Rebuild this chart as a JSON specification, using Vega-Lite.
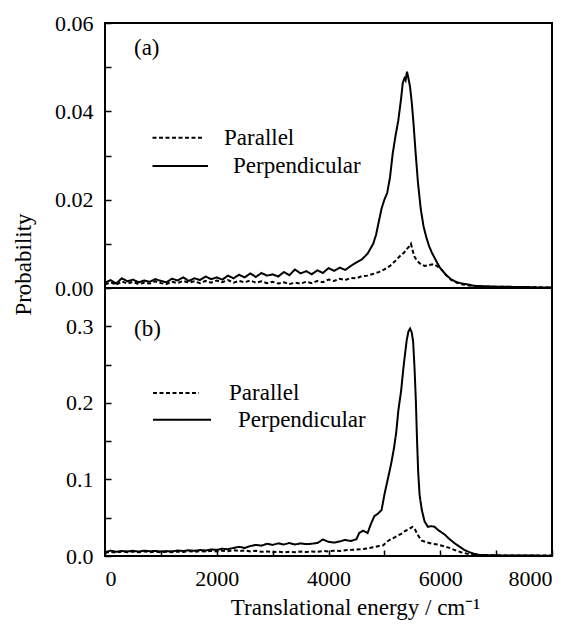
{
"$schema":"https://vega.github.io/schema/vega-lite/v6.json",
"autosize":{"type":"pad"},
"padding":{"left":11,"top":11,"right":5,"bottom":2},
"background":"white",
"spacing":0,
"bounds":"flush",
"config":{"view":{"stroke":"black","strokeWidth":2},"font":"Times New Roman, Liberation Serif, serif",
"text":{"font":"Times New Roman, Liberation Serif, serif"},
"axis":{"grid":false,"domain":false,"tickColor":"black","tickWidth":1.5,"tickSize":-6,"labelFont":"Times New Roman, Liberation Serif, serif","labelFontSize":22,"labelColor":"black","titleFont":"Times New Roman, Liberation Serif, serif","titleFontWeight":"normal","titleColor":"black","labelPadding":18}},
"datasets":{
"curves":[
{"p":"a","s":"Perpendicular","x":0,"y":0.0012},{"p":"a","s":"Perpendicular","x":100,"y":0.0018},{"p":"a","s":"Perpendicular","x":200,"y":0.0010},{"p":"a","s":"Perpendicular","x":300,"y":0.0022},{"p":"a","s":"Perpendicular","x":400,"y":0.0015},{"p":"a","s":"Perpendicular","x":500,"y":0.0019},{"p":"a","s":"Perpendicular","x":600,"y":0.0013},{"p":"a","s":"Perpendicular","x":700,"y":0.0017},{"p":"a","s":"Perpendicular","x":800,"y":0.0014},{"p":"a","s":"Perpendicular","x":900,"y":0.0020},{"p":"a","s":"Perpendicular","x":1000,"y":0.0016},{"p":"a","s":"Perpendicular","x":1100,"y":0.0013},{"p":"a","s":"Perpendicular","x":1200,"y":0.0021},{"p":"a","s":"Perpendicular","x":1300,"y":0.0017},{"p":"a","s":"Perpendicular","x":1400,"y":0.0024},{"p":"a","s":"Perpendicular","x":1500,"y":0.0016},{"p":"a","s":"Perpendicular","x":1600,"y":0.0022},{"p":"a","s":"Perpendicular","x":1700,"y":0.0018},{"p":"a","s":"Perpendicular","x":1800,"y":0.0026},{"p":"a","s":"Perpendicular","x":1900,"y":0.0020},{"p":"a","s":"Perpendicular","x":2000,"y":0.0024},{"p":"a","s":"Perpendicular","x":2100,"y":0.0019},{"p":"a","s":"Perpendicular","x":2200,"y":0.0028},{"p":"a","s":"Perpendicular","x":2300,"y":0.0022},{"p":"a","s":"Perpendicular","x":2400,"y":0.0030},{"p":"a","s":"Perpendicular","x":2500,"y":0.0024},{"p":"a","s":"Perpendicular","x":2600,"y":0.0033},{"p":"a","s":"Perpendicular","x":2700,"y":0.0025},{"p":"a","s":"Perpendicular","x":2800,"y":0.0034},{"p":"a","s":"Perpendicular","x":2900,"y":0.0028},{"p":"a","s":"Perpendicular","x":3000,"y":0.0031},{"p":"a","s":"Perpendicular","x":3100,"y":0.0026},{"p":"a","s":"Perpendicular","x":3200,"y":0.0036},{"p":"a","s":"Perpendicular","x":3300,"y":0.0029},{"p":"a","s":"Perpendicular","x":3400,"y":0.0042},{"p":"a","s":"Perpendicular","x":3500,"y":0.0033},{"p":"a","s":"Perpendicular","x":3600,"y":0.0038},{"p":"a","s":"Perpendicular","x":3700,"y":0.0031},{"p":"a","s":"Perpendicular","x":3800,"y":0.0040},{"p":"a","s":"Perpendicular","x":3900,"y":0.0034},{"p":"a","s":"Perpendicular","x":4000,"y":0.0045},{"p":"a","s":"Perpendicular","x":4100,"y":0.0039},{"p":"a","s":"Perpendicular","x":4200,"y":0.0046},{"p":"a","s":"Perpendicular","x":4300,"y":0.0041},{"p":"a","s":"Perpendicular","x":4400,"y":0.0050},{"p":"a","s":"Perpendicular","x":4500,"y":0.0058},{"p":"a","s":"Perpendicular","x":4600,"y":0.0065},{"p":"a","s":"Perpendicular","x":4700,"y":0.0078},{"p":"a","s":"Perpendicular","x":4800,"y":0.0100},{"p":"a","s":"Perpendicular","x":4850,"y":0.0120},{"p":"a","s":"Perpendicular","x":4900,"y":0.0150},{"p":"a","s":"Perpendicular","x":4950,"y":0.0180},{"p":"a","s":"Perpendicular","x":5000,"y":0.0200},{"p":"a","s":"Perpendicular","x":5050,"y":0.0215},{"p":"a","s":"Perpendicular","x":5100,"y":0.0250},{"p":"a","s":"Perpendicular","x":5150,"y":0.0305},{"p":"a","s":"Perpendicular","x":5200,"y":0.0345},{"p":"a","s":"Perpendicular","x":5250,"y":0.0380},{"p":"a","s":"Perpendicular","x":5300,"y":0.0430},{"p":"a","s":"Perpendicular","x":5330,"y":0.0465},{"p":"a","s":"Perpendicular","x":5360,"y":0.0475},{"p":"a","s":"Perpendicular","x":5380,"y":0.0470},{"p":"a","s":"Perpendicular","x":5405,"y":0.0490},{"p":"a","s":"Perpendicular","x":5430,"y":0.0475},{"p":"a","s":"Perpendicular","x":5460,"y":0.0455},{"p":"a","s":"Perpendicular","x":5490,"y":0.0420},{"p":"a","s":"Perpendicular","x":5520,"y":0.0375},{"p":"a","s":"Perpendicular","x":5560,"y":0.0305},{"p":"a","s":"Perpendicular","x":5600,"y":0.0240},{"p":"a","s":"Perpendicular","x":5650,"y":0.0180},{"p":"a","s":"Perpendicular","x":5700,"y":0.0140},{"p":"a","s":"Perpendicular","x":5750,"y":0.0115},{"p":"a","s":"Perpendicular","x":5800,"y":0.0095},{"p":"a","s":"Perpendicular","x":5850,"y":0.0080},{"p":"a","s":"Perpendicular","x":5900,"y":0.0068},{"p":"a","s":"Perpendicular","x":5950,"y":0.0056},{"p":"a","s":"Perpendicular","x":6000,"y":0.0045},{"p":"a","s":"Perpendicular","x":6100,"y":0.0030},{"p":"a","s":"Perpendicular","x":6200,"y":0.0019},{"p":"a","s":"Perpendicular","x":6300,"y":0.0013},{"p":"a","s":"Perpendicular","x":6400,"y":0.0010},{"p":"a","s":"Perpendicular","x":6500,"y":0.0008},{"p":"a","s":"Perpendicular","x":6600,"y":0.0005},{"p":"a","s":"Perpendicular","x":6800,"y":0.0004},{"p":"a","s":"Perpendicular","x":7000,"y":0.0003},{"p":"a","s":"Perpendicular","x":7200,"y":0.0003},{"p":"a","s":"Perpendicular","x":7400,"y":0.0002},{"p":"a","s":"Perpendicular","x":7600,"y":0.0002},{"p":"a","s":"Perpendicular","x":7800,"y":0.0001},{"p":"a","s":"Perpendicular","x":8000,"y":0.0001},
{"p":"a","s":"Parallel","x":0,"y":0.0008},{"p":"a","s":"Parallel","x":100,"y":0.0013},{"p":"a","s":"Parallel","x":200,"y":0.0007},{"p":"a","s":"Parallel","x":300,"y":0.0015},{"p":"a","s":"Parallel","x":400,"y":0.0010},{"p":"a","s":"Parallel","x":500,"y":0.0014},{"p":"a","s":"Parallel","x":600,"y":0.0009},{"p":"a","s":"Parallel","x":700,"y":0.0012},{"p":"a","s":"Parallel","x":800,"y":0.0010},{"p":"a","s":"Parallel","x":900,"y":0.0015},{"p":"a","s":"Parallel","x":1000,"y":0.0011},{"p":"a","s":"Parallel","x":1100,"y":0.0009},{"p":"a","s":"Parallel","x":1200,"y":0.0014},{"p":"a","s":"Parallel","x":1300,"y":0.0011},{"p":"a","s":"Parallel","x":1400,"y":0.0016},{"p":"a","s":"Parallel","x":1500,"y":0.0012},{"p":"a","s":"Parallel","x":1600,"y":0.0015},{"p":"a","s":"Parallel","x":1700,"y":0.0011},{"p":"a","s":"Parallel","x":1800,"y":0.0016},{"p":"a","s":"Parallel","x":1900,"y":0.0012},{"p":"a","s":"Parallel","x":2000,"y":0.0017},{"p":"a","s":"Parallel","x":2100,"y":0.0013},{"p":"a","s":"Parallel","x":2200,"y":0.0018},{"p":"a","s":"Parallel","x":2300,"y":0.0012},{"p":"a","s":"Parallel","x":2400,"y":0.0016},{"p":"a","s":"Parallel","x":2500,"y":0.0013},{"p":"a","s":"Parallel","x":2600,"y":0.0017},{"p":"a","s":"Parallel","x":2700,"y":0.0012},{"p":"a","s":"Parallel","x":2800,"y":0.0015},{"p":"a","s":"Parallel","x":2900,"y":0.0011},{"p":"a","s":"Parallel","x":3000,"y":0.0014},{"p":"a","s":"Parallel","x":3100,"y":0.0010},{"p":"a","s":"Parallel","x":3200,"y":0.0013},{"p":"a","s":"Parallel","x":3300,"y":0.0009},{"p":"a","s":"Parallel","x":3400,"y":0.0012},{"p":"a","s":"Parallel","x":3500,"y":0.0010},{"p":"a","s":"Parallel","x":3600,"y":0.0014},{"p":"a","s":"Parallel","x":3700,"y":0.0011},{"p":"a","s":"Parallel","x":3800,"y":0.0016},{"p":"a","s":"Parallel","x":3900,"y":0.0013},{"p":"a","s":"Parallel","x":4000,"y":0.0019},{"p":"a","s":"Parallel","x":4100,"y":0.0016},{"p":"a","s":"Parallel","x":4200,"y":0.0021},{"p":"a","s":"Parallel","x":4300,"y":0.0018},{"p":"a","s":"Parallel","x":4400,"y":0.0023},{"p":"a","s":"Parallel","x":4500,"y":0.0022},{"p":"a","s":"Parallel","x":4600,"y":0.0027},{"p":"a","s":"Parallel","x":4700,"y":0.0028},{"p":"a","s":"Parallel","x":4800,"y":0.0032},{"p":"a","s":"Parallel","x":4900,"y":0.0036},{"p":"a","s":"Parallel","x":5000,"y":0.0042},{"p":"a","s":"Parallel","x":5100,"y":0.0050},{"p":"a","s":"Parallel","x":5200,"y":0.0062},{"p":"a","s":"Parallel","x":5300,"y":0.0075},{"p":"a","s":"Parallel","x":5350,"y":0.0080},{"p":"a","s":"Parallel","x":5400,"y":0.0088},{"p":"a","s":"Parallel","x":5450,"y":0.0095},{"p":"a","s":"Parallel","x":5475,"y":0.0100},{"p":"a","s":"Parallel","x":5500,"y":0.0088},{"p":"a","s":"Parallel","x":5530,"y":0.0073},{"p":"a","s":"Parallel","x":5580,"y":0.0062},{"p":"a","s":"Parallel","x":5650,"y":0.0054},{"p":"a","s":"Parallel","x":5720,"y":0.0050},{"p":"a","s":"Parallel","x":5800,"y":0.0052},{"p":"a","s":"Parallel","x":5880,"y":0.0054},{"p":"a","s":"Parallel","x":5950,"y":0.0049},{"p":"a","s":"Parallel","x":6020,"y":0.0042},{"p":"a","s":"Parallel","x":6100,"y":0.0030},{"p":"a","s":"Parallel","x":6200,"y":0.0018},{"p":"a","s":"Parallel","x":6300,"y":0.0012},{"p":"a","s":"Parallel","x":6400,"y":0.0008},{"p":"a","s":"Parallel","x":6550,"y":0.0005},{"p":"a","s":"Parallel","x":6800,"y":0.0003},{"p":"a","s":"Parallel","x":7000,"y":0.0003},{"p":"a","s":"Parallel","x":7500,"y":0.0002},{"p":"a","s":"Parallel","x":8000,"y":0.0001},
{"p":"b","s":"Perpendicular","x":0,"y":0.005},{"p":"b","s":"Perpendicular","x":100,"y":0.007},{"p":"b","s":"Perpendicular","x":200,"y":0.0055},{"p":"b","s":"Perpendicular","x":300,"y":0.0065},{"p":"b","s":"Perpendicular","x":400,"y":0.006},{"p":"b","s":"Perpendicular","x":500,"y":0.0068},{"p":"b","s":"Perpendicular","x":600,"y":0.0058},{"p":"b","s":"Perpendicular","x":700,"y":0.007},{"p":"b","s":"Perpendicular","x":800,"y":0.0062},{"p":"b","s":"Perpendicular","x":900,"y":0.0066},{"p":"b","s":"Perpendicular","x":1000,"y":0.0058},{"p":"b","s":"Perpendicular","x":1100,"y":0.0064},{"p":"b","s":"Perpendicular","x":1200,"y":0.006},{"p":"b","s":"Perpendicular","x":1300,"y":0.0072},{"p":"b","s":"Perpendicular","x":1400,"y":0.0065},{"p":"b","s":"Perpendicular","x":1500,"y":0.0075},{"p":"b","s":"Perpendicular","x":1600,"y":0.0068},{"p":"b","s":"Perpendicular","x":1700,"y":0.0078},{"p":"b","s":"Perpendicular","x":1800,"y":0.0072},{"p":"b","s":"Perpendicular","x":1900,"y":0.0085},{"p":"b","s":"Perpendicular","x":2000,"y":0.008},{"p":"b","s":"Perpendicular","x":2100,"y":0.0095},{"p":"b","s":"Perpendicular","x":2200,"y":0.0088},{"p":"b","s":"Perpendicular","x":2300,"y":0.0105},{"p":"b","s":"Perpendicular","x":2400,"y":0.012},{"p":"b","s":"Perpendicular","x":2500,"y":0.0105},{"p":"b","s":"Perpendicular","x":2600,"y":0.013},{"p":"b","s":"Perpendicular","x":2700,"y":0.0145},{"p":"b","s":"Perpendicular","x":2800,"y":0.0135},{"p":"b","s":"Perpendicular","x":2900,"y":0.016},{"p":"b","s":"Perpendicular","x":3000,"y":0.0145},{"p":"b","s":"Perpendicular","x":3100,"y":0.0165},{"p":"b","s":"Perpendicular","x":3200,"y":0.015},{"p":"b","s":"Perpendicular","x":3300,"y":0.017},{"p":"b","s":"Perpendicular","x":3400,"y":0.015},{"p":"b","s":"Perpendicular","x":3500,"y":0.0165},{"p":"b","s":"Perpendicular","x":3600,"y":0.0155},{"p":"b","s":"Perpendicular","x":3700,"y":0.016},{"p":"b","s":"Perpendicular","x":3800,"y":0.017},{"p":"b","s":"Perpendicular","x":3900,"y":0.0215},{"p":"b","s":"Perpendicular","x":4000,"y":0.0185},{"p":"b","s":"Perpendicular","x":4100,"y":0.0175},{"p":"b","s":"Perpendicular","x":4200,"y":0.019},{"p":"b","s":"Perpendicular","x":4300,"y":0.021},{"p":"b","s":"Perpendicular","x":4400,"y":0.0195},{"p":"b","s":"Perpendicular","x":4500,"y":0.022},{"p":"b","s":"Perpendicular","x":4550,"y":0.030},{"p":"b","s":"Perpendicular","x":4620,"y":0.033},{"p":"b","s":"Perpendicular","x":4700,"y":0.030},{"p":"b","s":"Perpendicular","x":4760,"y":0.042},{"p":"b","s":"Perpendicular","x":4820,"y":0.052},{"p":"b","s":"Perpendicular","x":4880,"y":0.055},{"p":"b","s":"Perpendicular","x":4950,"y":0.060},{"p":"b","s":"Perpendicular","x":5000,"y":0.080},{"p":"b","s":"Perpendicular","x":5060,"y":0.100},{"p":"b","s":"Perpendicular","x":5120,"y":0.120},{"p":"b","s":"Perpendicular","x":5170,"y":0.140},{"p":"b","s":"Perpendicular","x":5210,"y":0.160},{"p":"b","s":"Perpendicular","x":5250,"y":0.190},{"p":"b","s":"Perpendicular","x":5300,"y":0.216},{"p":"b","s":"Perpendicular","x":5340,"y":0.245},{"p":"b","s":"Perpendicular","x":5370,"y":0.264},{"p":"b","s":"Perpendicular","x":5400,"y":0.282},{"p":"b","s":"Perpendicular","x":5430,"y":0.293},{"p":"b","s":"Perpendicular","x":5460,"y":0.297},{"p":"b","s":"Perpendicular","x":5490,"y":0.292},{"p":"b","s":"Perpendicular","x":5515,"y":0.280},{"p":"b","s":"Perpendicular","x":5540,"y":0.245},{"p":"b","s":"Perpendicular","x":5565,"y":0.200},{"p":"b","s":"Perpendicular","x":5585,"y":0.150},{"p":"b","s":"Perpendicular","x":5605,"y":0.110},{"p":"b","s":"Perpendicular","x":5630,"y":0.080},{"p":"b","s":"Perpendicular","x":5670,"y":0.060},{"p":"b","s":"Perpendicular","x":5720,"y":0.045},{"p":"b","s":"Perpendicular","x":5780,"y":0.038},{"p":"b","s":"Perpendicular","x":5840,"y":0.039},{"p":"b","s":"Perpendicular","x":5900,"y":0.038},{"p":"b","s":"Perpendicular","x":5960,"y":0.034},{"p":"b","s":"Perpendicular","x":6020,"y":0.031},{"p":"b","s":"Perpendicular","x":6080,"y":0.028},{"p":"b","s":"Perpendicular","x":6150,"y":0.023},{"p":"b","s":"Perpendicular","x":6250,"y":0.017},{"p":"b","s":"Perpendicular","x":6350,"y":0.012},{"p":"b","s":"Perpendicular","x":6430,"y":0.008},{"p":"b","s":"Perpendicular","x":6520,"y":0.005},{"p":"b","s":"Perpendicular","x":6600,"y":0.003},{"p":"b","s":"Perpendicular","x":6700,"y":0.0015},{"p":"b","s":"Perpendicular","x":6900,"y":0.001},{"p":"b","s":"Perpendicular","x":7100,"y":0.0008},{"p":"b","s":"Perpendicular","x":7400,"y":0.0006},{"p":"b","s":"Perpendicular","x":7700,"y":0.0005},{"p":"b","s":"Perpendicular","x":8000,"y":0.0004},
{"p":"b","s":"Parallel","x":0,"y":0.004},{"p":"b","s":"Parallel","x":100,"y":0.0055},{"p":"b","s":"Parallel","x":200,"y":0.0045},{"p":"b","s":"Parallel","x":300,"y":0.006},{"p":"b","s":"Parallel","x":400,"y":0.005},{"p":"b","s":"Parallel","x":500,"y":0.0058},{"p":"b","s":"Parallel","x":600,"y":0.0048},{"p":"b","s":"Parallel","x":700,"y":0.006},{"p":"b","s":"Parallel","x":800,"y":0.005},{"p":"b","s":"Parallel","x":900,"y":0.0057},{"p":"b","s":"Parallel","x":1000,"y":0.0049},{"p":"b","s":"Parallel","x":1100,"y":0.0055},{"p":"b","s":"Parallel","x":1200,"y":0.005},{"p":"b","s":"Parallel","x":1300,"y":0.006},{"p":"b","s":"Parallel","x":1400,"y":0.0052},{"p":"b","s":"Parallel","x":1500,"y":0.0062},{"p":"b","s":"Parallel","x":1600,"y":0.0055},{"p":"b","s":"Parallel","x":1700,"y":0.0065},{"p":"b","s":"Parallel","x":1800,"y":0.0058},{"p":"b","s":"Parallel","x":1900,"y":0.0068},{"p":"b","s":"Parallel","x":2000,"y":0.006},{"p":"b","s":"Parallel","x":2100,"y":0.007},{"p":"b","s":"Parallel","x":2200,"y":0.0062},{"p":"b","s":"Parallel","x":2300,"y":0.0075},{"p":"b","s":"Parallel","x":2400,"y":0.0065},{"p":"b","s":"Parallel","x":2500,"y":0.0072},{"p":"b","s":"Parallel","x":2600,"y":0.006},{"p":"b","s":"Parallel","x":2700,"y":0.0068},{"p":"b","s":"Parallel","x":2800,"y":0.0055},{"p":"b","s":"Parallel","x":2900,"y":0.006},{"p":"b","s":"Parallel","x":3000,"y":0.005},{"p":"b","s":"Parallel","x":3100,"y":0.0058},{"p":"b","s":"Parallel","x":3200,"y":0.0048},{"p":"b","s":"Parallel","x":3300,"y":0.0056},{"p":"b","s":"Parallel","x":3400,"y":0.005},{"p":"b","s":"Parallel","x":3500,"y":0.0058},{"p":"b","s":"Parallel","x":3600,"y":0.0052},{"p":"b","s":"Parallel","x":3700,"y":0.006},{"p":"b","s":"Parallel","x":3800,"y":0.0055},{"p":"b","s":"Parallel","x":3900,"y":0.0065},{"p":"b","s":"Parallel","x":4000,"y":0.006},{"p":"b","s":"Parallel","x":4100,"y":0.007},{"p":"b","s":"Parallel","x":4200,"y":0.0065},{"p":"b","s":"Parallel","x":4300,"y":0.0075},{"p":"b","s":"Parallel","x":4400,"y":0.008},{"p":"b","s":"Parallel","x":4500,"y":0.0085},{"p":"b","s":"Parallel","x":4600,"y":0.009},{"p":"b","s":"Parallel","x":4700,"y":0.010},{"p":"b","s":"Parallel","x":4800,"y":0.0115},{"p":"b","s":"Parallel","x":4900,"y":0.013},{"p":"b","s":"Parallel","x":4980,"y":0.014},{"p":"b","s":"Parallel","x":5050,"y":0.019},{"p":"b","s":"Parallel","x":5120,"y":0.022},{"p":"b","s":"Parallel","x":5200,"y":0.025},{"p":"b","s":"Parallel","x":5300,"y":0.029},{"p":"b","s":"Parallel","x":5380,"y":0.033},{"p":"b","s":"Parallel","x":5440,"y":0.035},{"p":"b","s":"Parallel","x":5500,"y":0.038},{"p":"b","s":"Parallel","x":5540,"y":0.036},{"p":"b","s":"Parallel","x":5580,"y":0.030},{"p":"b","s":"Parallel","x":5620,"y":0.025},{"p":"b","s":"Parallel","x":5670,"y":0.020},{"p":"b","s":"Parallel","x":5750,"y":0.018},{"p":"b","s":"Parallel","x":5850,"y":0.016},{"p":"b","s":"Parallel","x":5950,"y":0.015},{"p":"b","s":"Parallel","x":6050,"y":0.013},{"p":"b","s":"Parallel","x":6150,"y":0.011},{"p":"b","s":"Parallel","x":6250,"y":0.008},{"p":"b","s":"Parallel","x":6370,"y":0.005},{"p":"b","s":"Parallel","x":6480,"y":0.003},{"p":"b","s":"Parallel","x":6600,"y":0.0015},{"p":"b","s":"Parallel","x":6800,"y":0.001},{"p":"b","s":"Parallel","x":7000,"y":0.0008},{"p":"b","s":"Parallel","x":7500,"y":0.0006},{"p":"b","s":"Parallel","x":8000,"y":0.0005}
],
"keys":[
{"p":"a","s":"Parallel","x":850,"x2":1754,"y":0.034},
{"p":"a","s":"Perpendicular","x":850,"x2":1844,"y":0.0276},
{"p":"b","s":"Parallel","x":859,"x2":1683,"y":0.213},
{"p":"b","s":"Perpendicular","x":859,"x2":1897,"y":0.178}
],
"texts":[
{"p":"a","t":"(a)","x":519,"y":0.0543},
{"p":"a","t":"Parallel","x":2130,"y":0.034},
{"p":"a","t":"Perpendicular","x":2291,"y":0.0276},
{"p":"b","t":"(b)","x":519,"y":0.297},
{"p":"b","t":"Parallel","x":2220,"y":0.213},
{"p":"b","t":"Perpendicular","x":2380,"y":0.178}
]
},
"vconcat":[
{
"width":447,"height":265,
"layer":[
{"data":{"name":"curves"},"transform":[{"filter":"datum.p=='a'"}],
"mark":{"type":"line","color":"black","strokeWidth":2},
"encoding":{
"x":{"field":"x","type":"quantitative","scale":{"domain":[0,8000],"nice":false},"axis":null},
"y":{"field":"y","type":"quantitative","scale":{"domain":[0,0.06],"nice":false},"axis":{"values":[0,0.01,0.02,0.03,0.04,0.05,0.06],"format":".2f","labelExpr":"round(datum.value*100)%2==0 ? datum.label : ''","title":"Probability","titleFontSize":23,"titleX":-70,"titleY":241,"titleAngle":-90,"titleAlign":"center","titleBaseline":"bottom"}},
"strokeDash":{"field":"s","type":"nominal","scale":{"domain":["Parallel","Perpendicular"],"range":[[4,2.5],[1,0]]},"legend":null}
}},
{"data":{"name":"keys"},"transform":[{"filter":"datum.p=='a'"}],
"mark":{"type":"rule","color":"black","strokeWidth":2},
"encoding":{"x":{"field":"x","type":"quantitative"},"x2":{"field":"x2"},"y":{"field":"y","type":"quantitative"},
"strokeDash":{"field":"s","type":"nominal","legend":null}}},
{"data":{"name":"texts"},"transform":[{"filter":"datum.p=='a'"}],
"mark":{"type":"text","align":"left","baseline":"middle","color":"black","fontSize":23},
"encoding":{"x":{"field":"x","type":"quantitative"},"y":{"field":"y","type":"quantitative"},"text":{"field":"t"}}}
]
},
{
"width":447,"height":268,
"layer":[
{"data":{"name":"curves"},"transform":[{"filter":"datum.p=='b'"}],
"mark":{"type":"line","color":"black","strokeWidth":2},
"encoding":{
"x":{"field":"x","type":"quantitative","scale":{"domain":[0,8000],"nice":false},"axis":{"values":[0,1000,2000,3000,4000,5000,6000,7000,8000],"format":"d","labelExpr":"round(datum.value/1000)%2==0 ? datum.label : ''","title":"Translational energy / cm⁻¹","titleFontSize":23,"titleY":58,"titleX":250,"titleBaseline":"alphabetic","titleAlign":"center"}},
"y":{"field":"y","type":"quantitative","scale":{"domain":[0,0.35],"nice":false},"axis":{"values":[0,0.05,0.1,0.15,0.2,0.25,0.3],"format":".1f","labelExpr":"round(datum.value*20)%2==0 ? datum.label : ''","title":null}},
"strokeDash":{"field":"s","type":"nominal","scale":{"domain":["Parallel","Perpendicular"],"range":[[4,2.5],[1,0]]},"legend":null}
}},
{"data":{"name":"keys"},"transform":[{"filter":"datum.p=='b'"}],
"mark":{"type":"rule","color":"black","strokeWidth":2},
"encoding":{"x":{"field":"x","type":"quantitative"},"x2":{"field":"x2"},"y":{"field":"y","type":"quantitative"},
"strokeDash":{"field":"s","type":"nominal","legend":null}}},
{"data":{"name":"texts"},"transform":[{"filter":"datum.p=='b'"}],
"mark":{"type":"text","align":"left","baseline":"middle","color":"black","fontSize":23},
"encoding":{"x":{"field":"x","type":"quantitative"},"y":{"field":"y","type":"quantitative"},"text":{"field":"t"}}}
]
}
]
}
